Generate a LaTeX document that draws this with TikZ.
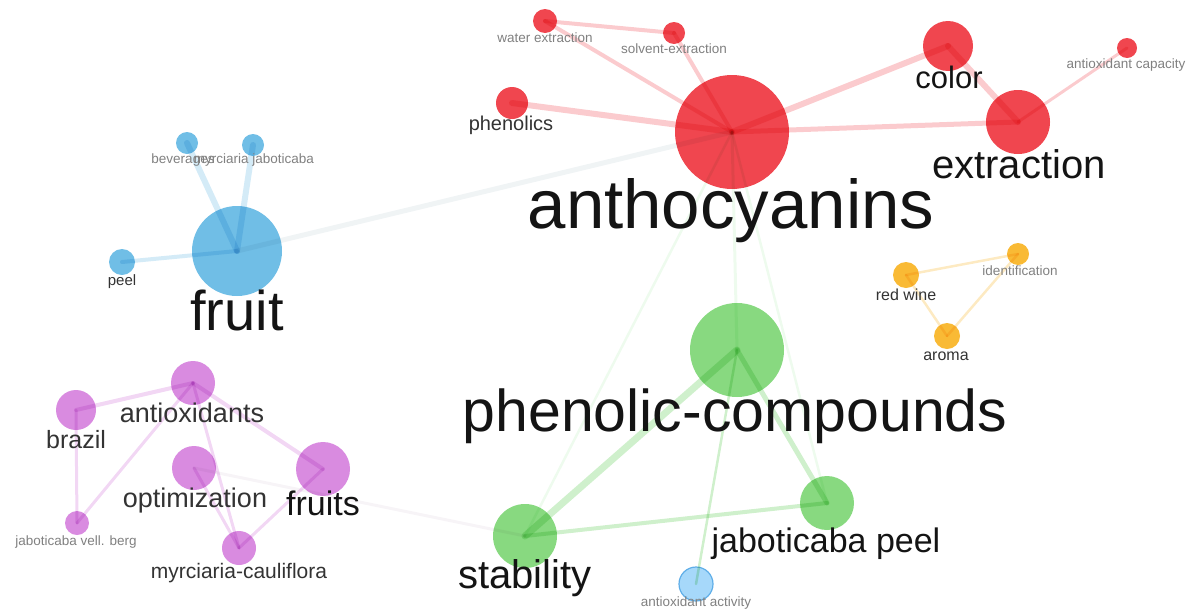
\documentclass[tikz,border=0pt]{standalone}
\usepackage{fontspec}
\setmainfont{Liberation Sans}
\definecolor{nred}{HTML}{F0464F}
\definecolor{nblue}{HTML}{70BEE6}
\definecolor{nlblue}{HTML}{A6D8FA}
\definecolor{nlblueo}{HTML}{5FAEE8}
\definecolor{ngreen}{HTML}{88D980}
\definecolor{norange}{HTML}{F9BA35}
\definecolor{npurple}{HTML}{D98BE0}
\definecolor{lgrey}{HTML}{808080}
\newcommand\fsz[1]{\fontsize{#1pt}{#1pt}\selectfont}
\begin{document}
\begin{tikzpicture}[x=1pt,y=-1pt,
  bub/.style={circle,inner sep=0pt,draw=none},
  redbub/.style={bub,fill=nred},
  bluebub/.style={bub,fill=nblue},
  greenbub/.style={bub,fill=ngreen},
  orangebub/.style={bub,fill=norange},
  purplebub/.style={bub,fill=npurple},
  lbl/.style={anchor=base,inner sep=0pt,text=black!92},
  mlbl/.style={anchor=base,inner sep=0pt,text=black!80},
  slbl/.style={anchor=base,inner sep=0pt,text=lgrey,font=\fsz{13.5}},
  redge/.style={draw=nred,opacity=0.28,line cap=round,blend mode=multiply},
  bedge/.style={draw=nblue,opacity=0.3,line cap=round,blend mode=multiply},
  gedge/.style={draw=ngreen,opacity=0.4,line cap=round,blend mode=multiply},
  oedge/.style={draw=norange,opacity=0.3,line cap=round,blend mode=multiply},
  pedge/.style={draw=npurple,opacity=0.35,line cap=round,blend mode=multiply},
  fedge/.style={draw=black!25!green!30,opacity=0.22,line cap=round,blend mode=multiply},
]
\useasboundingbox (0,0) rectangle (1198,608);

% ---- bubbles ----
\node[redbub,minimum size=114pt] (anth) at (732,132) {};
\node[redbub,minimum size=24pt] (water) at (545,21) {};
\node[redbub,minimum size=22pt] (solvent) at (674,33) {};
\node[redbub,minimum size=32pt] (phenolics) at (512,103) {};
\node[redbub,minimum size=50pt] (color) at (948,46) {};
\node[redbub,minimum size=20pt] (antcap) at (1127,48) {};
\node[redbub,minimum size=64pt] (extraction) at (1018,122) {};

\node[bluebub,minimum size=90pt] (fruit) at (237,251) {};
\node[bluebub,minimum size=22pt] (beverages) at (187,143) {};
\node[bluebub,minimum size=22pt] (myrjab) at (253,145) {};
\node[bluebub,minimum size=26pt] (peel) at (122,262) {};

\node[greenbub,minimum size=94pt] (phencomp) at (737,350) {};
\node[greenbub,minimum size=64pt] (stability) at (525,536) {};
\node[greenbub,minimum size=54pt] (jabpeel) at (827,503) {};
\node[bub,fill=nlblue,draw=nlblueo,line width=1.2pt,minimum size=34pt] (antact) at (696,584) {};

\node[orangebub,minimum size=26pt] (redwine) at (906,275) {};
\node[orangebub,minimum size=22pt] (ident) at (1018,254) {};
\node[orangebub,minimum size=26pt] (aroma) at (947,336) {};

\node[purplebub,minimum size=44pt] (antiox) at (193,383) {};
\node[purplebub,minimum size=40pt] (brazil) at (76,410) {};
\node[purplebub,minimum size=44pt] (optim) at (194,468) {};
\node[purplebub,minimum size=54pt] (fruits) at (323,469) {};
\node[purplebub,minimum size=24pt] (jabvell) at (77,523) {};
\node[purplebub,minimum size=34pt] (myrcaul) at (239,548) {};

% ---- edges ----
\draw[fedge,line width=5pt,draw=nblue!40!gray!40,opacity=0.28] (fruit.center) -- (anth.center);
\draw[fedge,line width=3pt] (anth.center) -- (phencomp.center);
\draw[fedge,line width=2.5pt] (anth.center) -- (stability.center);
\draw[fedge,line width=2.5pt] (anth.center) -- (jabpeel.center);
\draw[fedge,line width=3pt,draw=npurple!40!gray!40] (optim.center) -- (stability.center);

\draw[redge,line width=6pt] (anth.center) -- (phenolics.center);
\draw[redge,line width=4pt] (anth.center) -- (water.center);
\draw[redge,line width=4pt] (anth.center) -- (solvent.center);
\draw[redge,line width=4pt] (water.center) -- (solvent.center);
\draw[redge,line width=6pt] (anth.center) -- (color.center);
\draw[redge,line width=5pt] (anth.center) -- (extraction.center);
\draw[redge,line width=6pt] (color.center) -- (extraction.center);
\draw[redge,line width=3pt] (extraction.center) -- (antcap.center);

\draw[bedge,line width=6pt] (fruit.center) -- (beverages.center);
\draw[bedge,line width=6pt] (fruit.center) -- (myrjab.center);
\draw[bedge,line width=4pt] (fruit.center) -- (peel.center);

\draw[gedge,line width=7pt] (phencomp.center) -- (stability.center);
\draw[gedge,line width=5pt] (phencomp.center) -- (jabpeel.center);
\draw[gedge,line width=2.5pt] (phencomp.center) -- (antact.center);
\draw[gedge,line width=4pt] (stability.center) -- (jabpeel.center);

\draw[oedge,line width=2.5pt] (redwine.center) -- (ident.center);
\draw[oedge,line width=2.5pt] (redwine.center) -- (aroma.center);
\draw[oedge,line width=2.5pt] (aroma.center) -- (ident.center);

\draw[pedge,line width=4pt] (antiox.center) -- (brazil.center);
\draw[pedge,line width=4pt] (antiox.center) -- (fruits.center);
\draw[pedge,line width=3pt] (antiox.center) -- (jabvell.center);
\draw[pedge,line width=3pt] (antiox.center) -- (myrcaul.center);
\draw[pedge,line width=3pt] (brazil.center) -- (jabvell.center);
\draw[pedge,line width=3pt] (optim.center) -- (myrcaul.center);
\draw[pedge,line width=3pt] (fruits.center) -- (myrcaul.center);

% ---- labels ----
\node[lbl,font=\fsz{69}] (anth-l) at (731,228) {anthocyanins};
\node[slbl] (water-l) at (545,42) {water extraction};
\node[slbl] (solvent-l) at (674,53) {solvent-extraction};
\node[mlbl,font=\fsz{20}] (phenolics-l) at (511,130) {phenolics};
\node[lbl,font=\fsz{31}] (color-l) at (949,88) {color};
\node[slbl] (antcap-l) at (1126,68) {antioxidant capacity};
\node[lbl,font=\fsz{40}] (extraction-l) at (1019,178) {extraction};

\node[lbl,font=\fsz{56}] (fruit-l) at (237,330) {fruit};
\node[slbl] (beverages-l) at (183,163) {beverages};
\node[slbl] (myrjab-l) at (254,163) {myrciaria jaboticaba};
\node[mlbl,font=\fsz{15}] (peel-l) at (122,285) {peel};

\node[lbl,font=\fsz{59}] (phencomp-l) at (735,431) {phenolic-compounds};
\node[lbl,font=\fsz{40}] (stability-l) at (525,588) {stability};
\node[lbl,font=\fsz{34}] (jabpeel-l) at (826,552) {jaboticaba peel};
\node[slbl] (antact-l) at (696,606) {antioxidant activity};

\node[mlbl,font=\fsz{16}] (redwine-l) at (906,300) {red wine};
\node[slbl] (ident-l) at (1020,275) {identification};
\node[mlbl,font=\fsz{16}] (aroma-l) at (946,360) {aroma};

\node[mlbl,font=\fsz{27}] (antiox-l) at (192,422) {antioxidants};
\node[mlbl,font=\fsz{25}] (brazil-l) at (76,448) {brazil};
\node[mlbl,font=\fsz{27}] (optim-l) at (195,507) {optimization};
\node[lbl,font=\fsz{34}] (fruits-l) at (323,515) {fruits};
\node[slbl] (jabvell-l) at (76,545) {jaboticaba vell. berg};
\node[mlbl,font=\fsz{21}] (myrcaul-l) at (239,578) {myrciaria-cauliflora};
\end{tikzpicture}
\end{document}
